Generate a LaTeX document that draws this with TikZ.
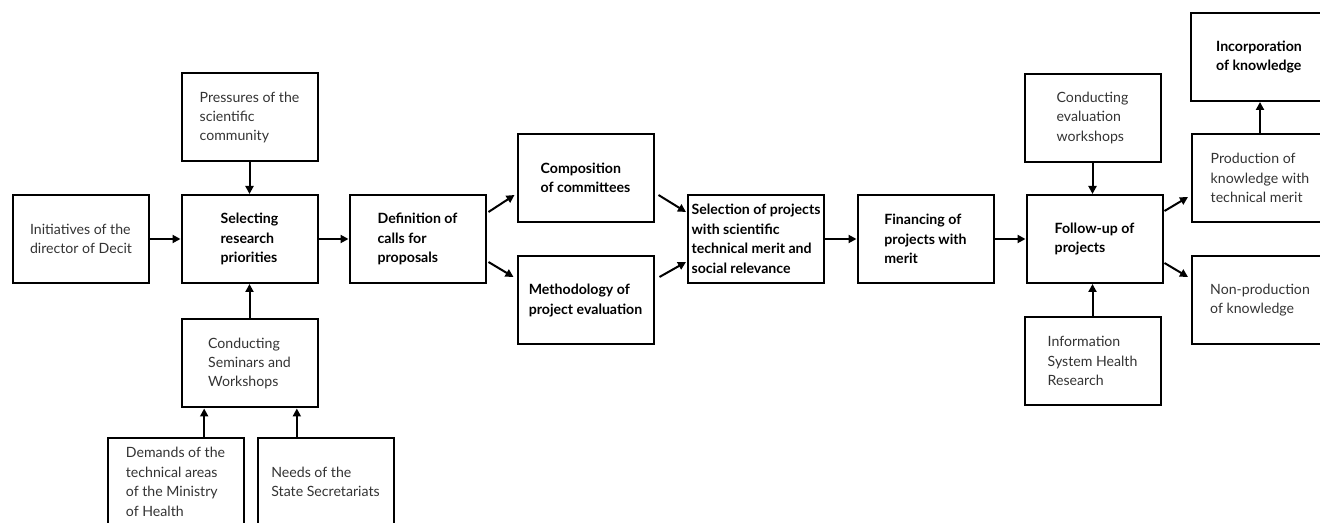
\documentclass[tikz,border=0pt]{standalone}
\usepackage{fontspec}
\setmainfont{Lato}
\usetikzlibrary{arrows.meta}

\tikzset{
  box/.style={draw, line width=1.5pt, minimum width=102pt, minimum height=66pt,
    align=left, inner sep=2pt, text=black!80,
    font=\fontsize{10.6}{14.6}\selectfont},
  keybox/.style={box, text=black, font=\fontsize{10.6}{14.6}\selectfont\bfseries},
  flow/.style={-{Triangle[length=6pt,width=6pt]}, line width=1.5pt},
}

\begin{document}
\begin{tikzpicture}[x=0.75pt,y=-0.75pt]
      % \draw[help lines,step=20](0,0) grid (1320,523);

      % Bounding box
      \path[use as bounding box] (0,0) rectangle (1320,523);

      % left part
      \draw (81,239) node[box] (init) {Initiatives of the\\director of Decit};
      \draw (249.5,239) node[keybox] (select) {Selecting\\research\\priorities};
      \draw (249.5,117.5) node[box] (press) {Pressures of the\\scientific\\community};
      \draw (249.5,363.5) node[box] (semin) {Conducting\\Seminars and\\Workshops};
      \draw (175.5,482) node[box] (demand) {Demands of the\\technical areas\\of the Ministry\\of Health};
      \draw (325.5,482) node[box] (needs) {Needs of the\\State Secretariats};

      % calls and evaluation
      \draw (417.5,239) node[keybox] (calls) {Definition of\\calls for\\proposals};
      \draw (585.5,178) node[keybox] (comm) {Composition\\of committees};
      \draw (585.5,300.5) node[keybox] (method) {Methodology of\\project evaluation};
      \draw (756,239) node[keybox] (choice) {Selection of projects\\with scientific\\technical merit and\\social relevance};
      \draw (925.5,239) node[keybox] (fund) {Financing of\\projects with\\merit};

      % follow-up and results
      \draw (1094.5,239) node[keybox] (follow) {Follow-up of\\projects};
      \draw (1092.5,118) node[box] (evalws) {Conducting\\evaluation\\workshops};
      \draw (1092.5,361) node[box] (info) {Information\\System Health\\Research};
      \draw (1259,57) node[keybox] (incorp) {Incorporation\\of knowledge};
      \draw (1260,178) node[box] (prod) {Production of\\knowledge with\\technical merit};
      \draw (1260,300) node[box] (nonprod) {Non-production\\of knowledge};

      \coordinate (demtop) at ([xshift=21.5]demand.north);
      \coordinate (needtop) at ([xshift=-21.5]needs.north);

      \draw [flow] (init) -- (select);
      \draw [flow] (press) -- (select);
      \draw [flow] (semin) -- (select);
      \draw [flow] (demtop) -- (demtop |- semin.south);
      \draw [flow] (needtop) -- (needtop |- semin.south);
      \draw [flow] (select) -- (calls);
      \draw [flow] ([shift={(2,-27)}]calls.east) -- ([shift={(-2,17)}]comm.west);
      \draw [flow] ([shift={(2,23)}]calls.east) -- ([shift={(-3,-23.5)}]method.west);
      \draw [flow] ([shift={(4,17)}]comm.east) -- ([shift={(-1,-27)}]choice.west);
      \draw [flow] ([shift={(5,-23.5)}]method.east) -- ([shift={(-1,23)}]choice.west);
      \draw [flow] (choice) -- (fund);
      \draw [flow] (fund) -- (follow);
      \draw [flow] (evalws.south) -- (evalws.south |- follow.north);
      \draw [flow] (info.north) -- (info.north |- follow.south);
      \draw [flow] ([shift={(1,-28)}]follow.east) -- ([shift={(-3,19)}]prod.west);
      \draw [flow] ([shift={(1,24)}]follow.east) -- ([shift={(-3,-23)}]nonprod.west);
      \draw [flow] (prod.north) -- (prod.north |- incorp.south);
    \end{tikzpicture}
\end{document}
